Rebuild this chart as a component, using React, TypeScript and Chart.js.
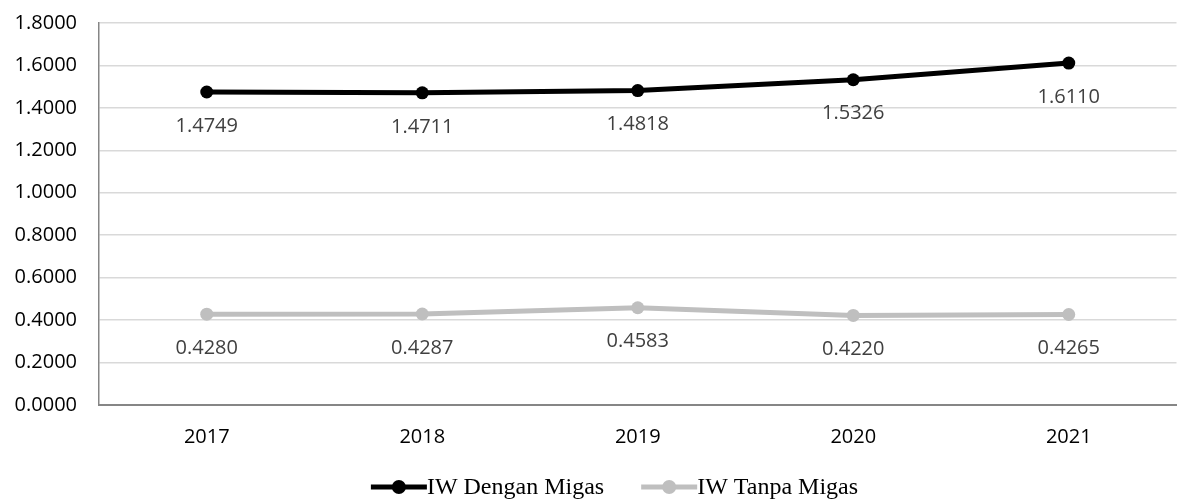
import React, { useEffect, useRef } from "react";
import { Chart, registerables } from "chart.js";

Chart.register(...registerables);

const categories = ["2017", "2018", "2019", "2020", "2021"];
const denganMigas = [1.4749, 1.4711, 1.4818, 1.5326, 1.611];
const tanpaMigas = [0.428, 0.4287, 0.4583, 0.422, 0.4265];
const seriesNames = ["IW Dengan Migas", "IW Tanpa Migas"];
const yTicksMin = 0;
const yTicksMax = 1.8;
const yTicksStep = 0.2;

const TICK_FONT = "'Open Sans', 'Noto Sans', sans-serif";
const LEGEND_FONT = "'Liberation Serif', 'DejaVu Serif', serif";

const dataLabelPlugin = {
  id: "dataLabels",
  afterDatasetsDraw(chart: any) {
    const ctx = chart.ctx;
    ctx.save();
    ctx.font = `20px ${TICK_FONT}`;
    ctx.fillStyle = "#404040";
    ctx.textAlign = "center";
    ctx.textBaseline = "middle";
    chart.data.datasets.forEach((ds: any, i: number) => {
      const meta = chart.getDatasetMeta(i);
      meta.data.forEach((pt: any, j: number) => {
        const v = ds.data[j] as number;
        ctx.fillText(v.toFixed(4), pt.x, pt.y + 34);
      });
    });
    ctx.restore();
  },
};

const legendPlugin = {
  id: "customLegend",
  afterDraw(chart: any) {
    const ctx = chart.ctx;
    ctx.save();
    ctx.font = `24px ${LEGEND_FONT}`;
    ctx.textBaseline = "middle";
    ctx.textAlign = "left";
    const y = 487;
    const lineLen = 56;
    const gap = 37;
    let total = 0;
    const widths = chart.data.datasets.map((ds: any) => ctx.measureText(ds.label).width);
    widths.forEach((w: number, i: number) => {
      total += lineLen + w + (i > 0 ? gap : 0);
    });
    let x = chart.width / 2 + 18 - total / 2;
    chart.data.datasets.forEach((ds: any, i: number) => {
      ctx.strokeStyle = ds.borderColor;
      ctx.lineWidth = 5;
      ctx.beginPath();
      ctx.moveTo(x, y);
      ctx.lineTo(x + lineLen, y);
      ctx.stroke();
      ctx.fillStyle = ds.borderColor;
      ctx.beginPath();
      ctx.arc(x + lineLen / 2, y, 7, 0, Math.PI * 2);
      ctx.fill();
      ctx.fillStyle = "#000000";
      ctx.fillText(ds.label, x + lineLen, y + 1);
      x += lineLen + widths[i] + gap;
    });
    ctx.restore();
  },
};

export default function App() {
  const canvasRef = useRef<HTMLCanvasElement | null>(null);

  useEffect(() => {
    document.body.style.margin = "0";
    const canvas = canvasRef.current;
    if (!canvas) return;
    const chart = new Chart(canvas, {
      type: "line",
      data: {
        labels: categories,
        datasets: [
          {
            label: seriesNames[0],
            data: denganMigas,
            borderColor: "#000000",
            backgroundColor: "#000000",
            borderWidth: 5,
            pointRadius: 6.5,
            pointBorderWidth: 0,
            pointBackgroundColor: "#000000",
            tension: 0,
          },
          {
            label: seriesNames[1],
            data: tanpaMigas,
            borderColor: "#bfbfbf",
            backgroundColor: "#bfbfbf",
            borderWidth: 5,
            pointRadius: 6.5,
            pointBorderWidth: 0,
            pointBackgroundColor: "#bfbfbf",
            tension: 0,
          },
        ],
      },
      options: {
        animation: false,
        responsive: false,
        maintainAspectRatio: false,
        layout: { padding: { top: 23, right: 16.5, left: 0, bottom: 0 } },
        plugins: {
          legend: { display: false },
          tooltip: { enabled: false },
        },
        scales: {
          x: {
            offset: true,
            grid: { display: false, drawTicks: false },
            border: { display: true, color: "#868686", width: 2 },
            ticks: {
              color: "#000000",
              font: { family: TICK_FONT, size: 20 },
              padding: 20,
              maxRotation: 0,
            },
            afterFit: (scale: any) => {
              scale.height = 97;
            },
          },
          y: {
            min: yTicksMin,
            max: yTicksMax,
            grid: { color: "#d9d9d9", lineWidth: 1.5, drawTicks: false },
            border: { display: true, color: "#868686", width: 1.5 },
            ticks: {
              stepSize: yTicksStep,
              color: "#000000",
              font: { family: TICK_FONT, size: 20 },
              padding: 22,
              callback: (v: any) => Number(v).toFixed(4),
            },
            afterFit: (scale: any) => {
              scale.width = 99;
              scale.paddingTop = 0;
              scale.paddingBottom = 0;
            },
          },
        },
      },
      plugins: [dataLabelPlugin, legendPlugin],
    });
    return () => chart.destroy();
  }, []);

  return (
    <div style={{ width: 1193, height: 502 }}>
      <canvas ref={canvasRef} width={1193} height={502} style={{ display: "block" }} />
    </div>
  );
}
